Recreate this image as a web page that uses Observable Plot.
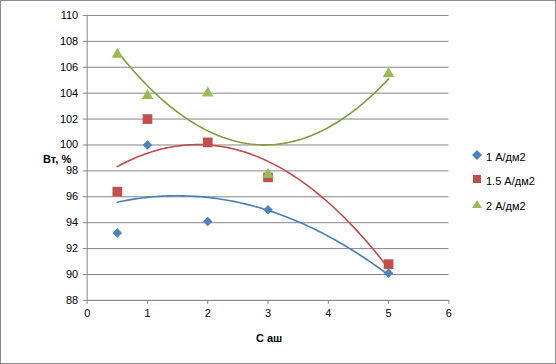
<!DOCTYPE html>
<html><head><meta charset="utf-8">
<script src="https://cdn.jsdelivr.net/npm/d3@7"></script>
<script src="https://cdn.jsdelivr.net/npm/@observablehq/plot@0.6"></script>
<style>
body{margin:0;background:#fff;}
#wrap{position:relative;width:556px;height:364px;box-sizing:border-box;border:1px solid #8c8c8c;font-family:"Liberation Sans",Arial,sans-serif;}
#wrap svg{position:absolute;left:-1px;top:-1px;}
.lab{position:absolute;font-size:11px;font-weight:bold;color:#000;}
.leg{position:absolute;left:472px;font-size:11px;color:#000;display:flex;align-items:center;}
.leg span.m{display:inline-block;width:10px;margin-right:3px;}
</style></head>
<body><div id="wrap"></div>
<script>
const xs = [0.5, 1, 2, 3, 5];
const series = ["1 А/дм2", "1.5 А/дм2", "2 А/дм2"];
const vals1 = [93.2, 100, 94.1, 95.0, 90.1];
const vals15 = [96.4, 102, 100.2, 97.5, 90.8];
const vals2 = [107, 103.8, 104, 97.7, 105.5];
const colors = ["#4F81BD", "#C0504D", "#9BBB59"];
const lineColors = ["#4A7EBB", "#BE4B48", "#7F9E3E"];
const symbols = ["diamond2", "square", "triangle"];
const yTicks = d3.range(88, 111, 2);
const xTicks = [0, 1, 2, 3, 4, 5, 6];

const allVals = [vals1, vals15, vals2];
const pts = [];
allVals.forEach((v, i) => v.forEach((y, j) => pts.push({x: xs[j], y, s: series[i]})));

// quadratic least-squares trendline
function fit2(x, y) {
  const S = k => d3.sum(x, xi => xi ** k);
  const T = k => d3.sum(x, (xi, i) => xi ** k * y[i]);
  const A = [[S(0), S(1), S(2)], [S(1), S(2), S(3)], [S(2), S(3), S(4)]];
  const b = [T(0), T(1), T(2)];
  const n = 3;
  for (let i = 0; i < n; i++) {
    for (let k = i + 1; k < n; k++) {
      const f = A[k][i] / A[i][i];
      for (let j = i; j < n; j++) A[k][j] -= f * A[i][j];
      b[k] -= f * b[i];
    }
  }
  const c = [0, 0, 0];
  for (let i = n - 1; i >= 0; i--) {
    let s = b[i];
    for (let j = i + 1; j < n; j++) s -= A[i][j] * c[j];
    c[i] = s / A[i][i];
  }
  return c;
}
const trend = [];
allVals.forEach((v, i) => {
  const c = fit2(xs, v);
  for (let t = 0.5; t <= 5.0001; t += 0.05) trend.push({x: t, y: c[0] + c[1] * t + c[2] * t * t, s: series[i]});
});

const chart = Plot.plot({
  width: 556, height: 364,
  marginLeft: 87, marginRight: 106, marginTop: 15, marginBottom: 63,
  style: {fontFamily: "Liberation Sans, Arial, sans-serif", fontSize: "11px", color: "#000", background: "transparent"},
  x: {domain: [0, 6], ticks: xTicks},
  y: {domain: [88, 110], ticks: yTicks},
  r: {type: "identity"},
  color: {domain: series, range: colors},
  marks: [
    Plot.gridY(yTicks, {stroke: "#868686", strokeOpacity: 1}),
    Plot.ruleX([0], {stroke: "#868686"}),
    Plot.ruleY([88], {stroke: "#868686"}),
    Plot.axisY({ticks: yTicks, tickSize: 4, tickPadding: 5, stroke: "#868686", label: null, tickFormat: d => d}),
    Plot.axisX({ticks: xTicks, tickSize: 4, tickPadding: 5, stroke: "#868686", label: null, tickFormat: d => d}),
    Plot.line(trend, {x: "x", y: "y", z: "s", stroke: d => lineColors[series.indexOf(d.s)], strokeWidth: 1.6}),
    Plot.dot(pts, {x: "x", y: "y", fill: "s", symbol: d => symbols[series.indexOf(d.s)], r: d => [4.3, 5.5, 4.3][series.indexOf(d.s)], stroke: "none"})
  ]
});
const wrap = document.getElementById("wrap");
wrap.appendChild(chart);

const yl = document.createElement("div");
yl.className = "lab"; yl.textContent = "Вт, %";
yl.style.left = "42px"; yl.style.top = "152px";
wrap.appendChild(yl);
const xl = document.createElement("div");
xl.className = "lab"; xl.textContent = "С аш";
xl.style.left = "255px"; xl.style.top = "331px";
wrap.appendChild(xl);

const shapes = [
  '<svg width="10" height="10"><path d="M5,0L10,5L5,10L0,5Z" fill="' + colors[0] + '"/></svg>',
  '<svg width="10" height="10"><rect x="1" y="1" width="8" height="8" fill="' + colors[1] + '"/></svg>',
  '<svg width="10" height="10"><path d="M5,1L10,9L0,9Z" fill="' + colors[2] + '"/></svg>'
];
const legTops = [150, 174, 199];
series.forEach((s, i) => {
  const d = document.createElement("div");
  d.className = "leg"; d.style.top = legTops[i] + "px";
  d.innerHTML = '<span class="m">' + shapes[i] + '</span>' + s;
  wrap.appendChild(d);
});
</script>
</body></html>
